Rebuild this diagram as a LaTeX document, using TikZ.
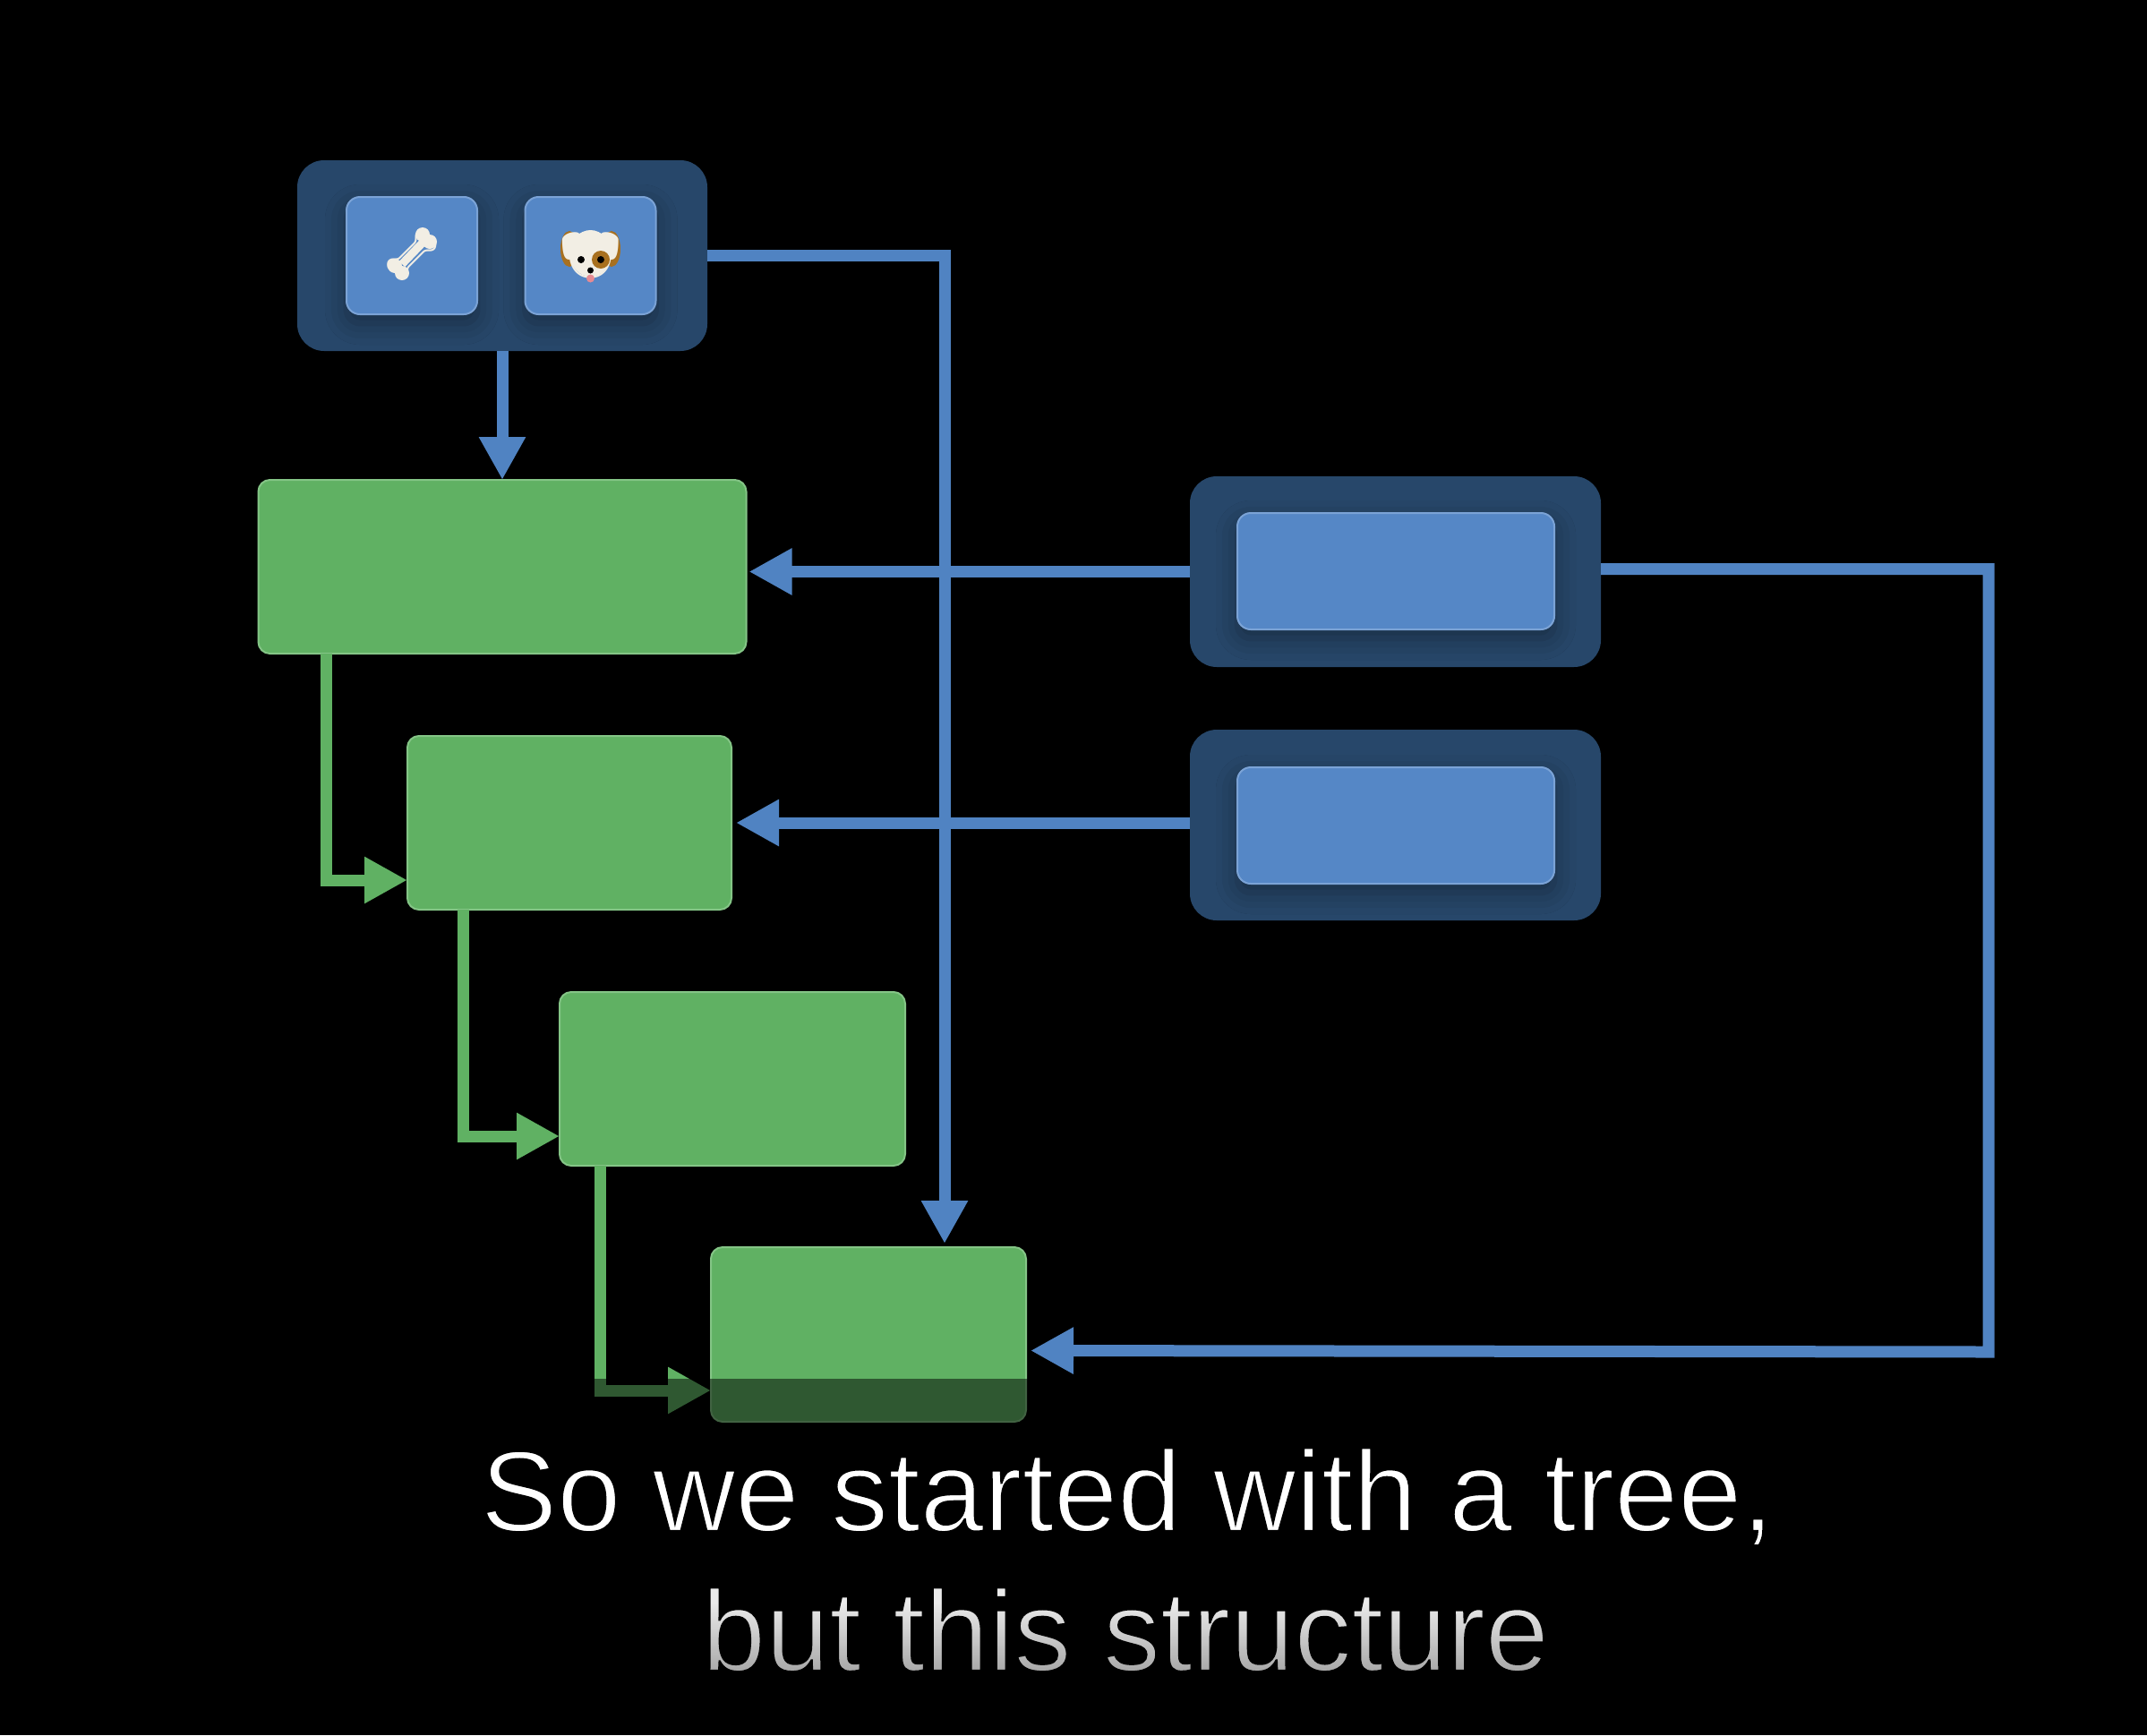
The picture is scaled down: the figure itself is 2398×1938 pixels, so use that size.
\documentclass[tikz,border=0pt]{standalone}
\usepackage{fontspec}
\setmainfont{Liberation Sans}
\newfontfamily\emojifont{Noto Emoji}
\usepackage{tikz}
\usetikzlibrary{arrows.meta,calc,fadings,shadows.blur}
\definecolor{PanelBlue}{HTML}{27476A}
\definecolor{KeyBlue}{HTML}{5587C6}
\definecolor{KeyEdge}{HTML}{7BA3D6}
\definecolor{FlowBlue}{HTML}{5083C2}
\definecolor{BoxGreen}{HTML}{60B163}
\definecolor{BoxEdge}{HTML}{84C586}
\definecolor{BoneWhite}{HTML}{F2EEE4}
\definecolor{EarBrown}{HTML}{A8701F}
\definecolor{TonguePink}{HTML}{E58A93}
\newcommand{\lighttext}[1]{\special{pdf:literal 2 Tr 0 0 0 RG 1.15 w}#1\special{pdf:literal 0 Tr 0 w}}

\begin{document}
\begin{tikzpicture}[x=.5pt,y=-.5pt,
    panel/.style={fill=PanelBlue,rounded corners=15pt,inner sep=0pt,outer sep=0pt},
    keybox/.style={fill=KeyBlue,draw=KeyEdge,line width=1pt,rounded corners=7.5pt,inner sep=0pt,outer sep=0pt,
      blur shadow={shadow xshift=0pt,shadow yshift=-5pt,shadow blur radius=12pt,shadow opacity=35}},
    viewbox/.style={fill=BoxGreen,draw=BoxEdge,line width=1pt,rounded corners=6.5pt,inner sep=0pt,outer sep=0pt},
    blueflow/.style={draw=FlowBlue,line width=6.5pt,-{Triangle[length=24pt,width=24.5pt]}},
    greenflow/.style={draw=BoxGreen,line width=6.5pt,-{Triangle[length=24pt,width=24.5pt]}},
    caption/.style={anchor=base,font=\fontsize{64pt}{75pt}\selectfont,inner sep=0pt},
    emoji/.style={font=\emojifont\fontsize{27pt}{30pt}\selectfont,text=BoneWhite,inner sep=0pt}]
  \fill[black] (0,0) rectangle (2398,1938);
  \useasboundingbox (0,0) rectangle (2398,1938);
  % top panel with the two keys
  \node[panel,minimum width=229pt,minimum height=106.5pt] (toppanel) at (561,285.5) {};
  \node[keybox,minimum width=73pt,minimum height=65.5pt] (bonekey) at (460,285.5) {};
  \node[keybox,minimum width=73pt,minimum height=65.5pt] (dogkey) at (659.5,285.5) {};
  % bone
  \draw[BoneWhite,line width=4.5pt] (449,295) -- (473,270);
  \fill[BoneWhite] (441,297) circle[radius=8] (449,305) circle[radius=8]
    (472,262) circle[radius=8] (480,270) circle[radius=8];
  \node[emoji] (bone) at (bonekey.center) {\reflectbox{🦴}};
  % dog
  \fill[EarBrown] (636,278) ellipse[x radius=10,y radius=20] (683,278) ellipse[x radius=10,y radius=20];
  \fill[BoneWhite] (659.5,283) ellipse[x radius=23,y radius=26];
  \node[emoji] (dog) at (dogkey.center) {🐶};
  \fill[EarBrown] (671,290) circle[radius=10];
  \fill[TonguePink] (659.5,311) circle[radius=4.5];
  \fill[black] (649,290) circle[radius=4] (671,290) circle[radius=4] (659.5,302) circle[radius=3.5];
  % panels on the right
  \node[panel,minimum width=229.5pt,minimum height=106.5pt] (midpanel) at (1558.5,638.5) {};
  \node[keybox,minimum width=177pt,minimum height=65pt] (midkey) at (1559,638) {};
  \node[panel,minimum width=229.5pt,minimum height=106.5pt] (lowpanel) at (1558.5,921.5) {};
  \node[keybox,minimum width=177pt,minimum height=65pt] (lowkey) at (1559,922) {};
  % green boxes
  \node[viewbox,minimum width=272.5pt,minimum height=97pt] (viewa) at (561,633) {};
  \node[viewbox,minimum width=181pt,minimum height=97pt] (viewb) at (636,919) {};
  \node[viewbox,minimum width=193pt,minimum height=97pt] (viewc) at (818,1205) {};
  \node[viewbox,minimum width=176pt,minimum height=97.5pt] (viewd) at (970,1490.5) {};
  % green connectors
  \draw[greenflow] (viewa.south -| 364,0) |- ($(viewb.west)+(0,64)$);
  \draw[greenflow] (viewb.south -| 517,0) |- ($(viewc.west)+(0,64)$);
  \draw[greenflow] (viewc.south -| 670,0) |- ($(viewd.west)+(0,62.5)$);
  % blue connectors
  \draw[blueflow] (toppanel.south) -- (viewa.north);
  \draw[blueflow,shorten >=2pt] (toppanel.east) -| ($(viewd.north)+(85,0)$);
  \draw[blueflow,shorten >=1.5pt] (midpanel.west) -- (midpanel.west -| viewa.east);
  \draw[blueflow,shorten >=2.5pt] ($(lowpanel.west)+(0,-2.5)$) -- ($(lowpanel.west -| viewb.east)+(0,-2.5)$);
  \draw[blueflow,shorten >=2.5pt] ($(midpanel.east)+(0,-3)$) -| (2221,1510) -- ($(viewd.east)+(0,18)$);
  % caption band
  \fill[black,opacity=.5] (0,1540) rectangle (2398,1938);
  \node[caption,text=white] (captiona) at (1259,1710) {\lighttext{So we started with a tree,}};
  \node[caption,text=white!92!black] (captionb) at (1257,1866) {\lighttext{but this structure}};
  \fill[black,opacity=.3,path fading=north] (700,1790) rectangle (1800,1872);
\end{tikzpicture}
\end{document}
